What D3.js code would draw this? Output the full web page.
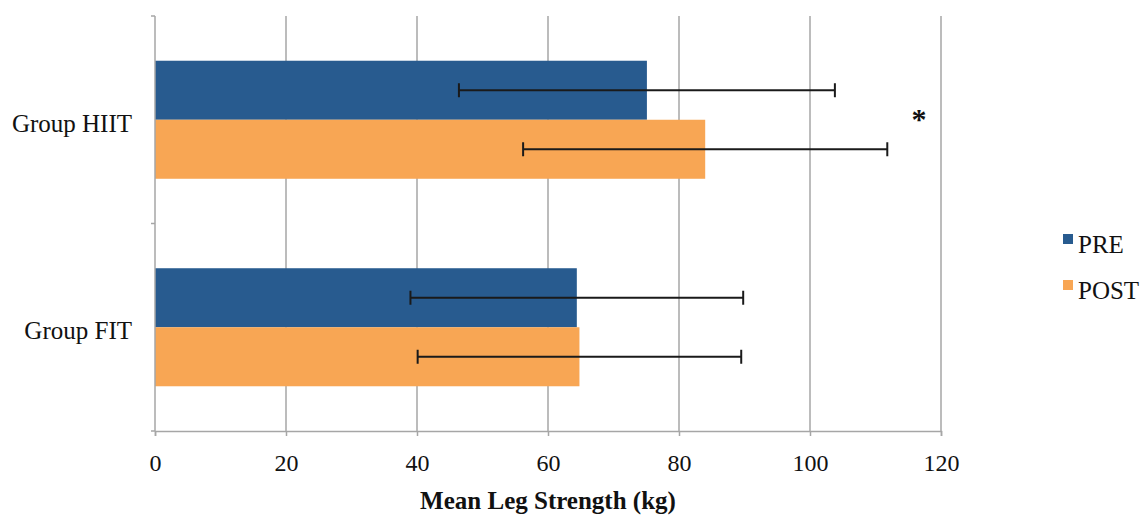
<!DOCTYPE html>
<html>
<head>
<meta charset="utf-8">
<script src="https://cdn.jsdelivr.net/npm/d3@7"></script>
<style>
  body { margin: 0; background: #fff; }
  svg { display: block; font-family: "Liberation Serif", "Times New Roman", serif; }
</style>
</head>
<body>
<svg class="chart"></svg>
<script>
// data
let groups = ["Group HIIT", "Group FIT"];
let series = ["PRE", "POST"];
let preMeans = [75.1, 64.4];
let postMeans = [84.0, 64.8];
let preErrors = [28.7, 25.4];
let postErrors = [27.8, 24.7];
let xTicks = [0, 20, 40, 60, 80, 100, 120];

let svgWidth = 1145, svgHeight = 515;
let colors = { PRE: "#285b8f", POST: "#f8a654" };

let rows = [];
groups.forEach(function (g, i) {
    rows.push({ group: g, s: "PRE", value: preMeans[i], err: preErrors[i] });
    rows.push({ group: g, s: "POST", value: postMeans[i], err: postErrors[i] });
});

let svg = d3.select('.chart')
    .attr("width", svgWidth)
    .attr("height", svgHeight);

let x = d3.scaleLinear().domain([0, 120]).range([155, 941]);
let y = d3.scaleBand().domain(groups).range([16, 431]);
let ySub = d3.scaleBand().domain(series).range([0, y.bandwidth()])
    .paddingInner(0).paddingOuter(0.758);

// gridlines
svg.append("g")
    .selectAll("line")
    .data(xTicks.slice(1))
    .enter()
    .append("line")
    .attr("x1", d => x(d)).attr("x2", d => x(d))
    .attr("y1", 16).attr("y2", 431)
    .attr("stroke", "#a6a6a6")
    .attr("stroke-width", 1.5);

// bars
svg.append("g")
    .selectAll("rect")
    .data(rows)
    .enter()
    .append("rect")
    .attr("x", x(0))
    .attr("y", d => y(d.group) + ySub(d.s))
    .attr("width", d => x(d.value) - x(0))
    .attr("height", ySub.bandwidth())
    .attr("fill", d => colors[d.s]);

// x axis
let xAxis = svg.append("g")
    .attr("transform", "translate(0,431)")
    .call(d3.axisBottom(x).tickValues(xTicks).tickSize(5));
xAxis.select(".domain").attr("stroke", "#a6a6a6").attr("stroke-width", 1.5);
xAxis.selectAll(".tick line").attr("stroke", "#a6a6a6").attr("stroke-width", 1.5);
xAxis.selectAll(".tick text")
    .attr("y", 40)
    .attr("dy", 0)
    .attr("font-family", "Liberation Serif, serif")
    .attr("font-size", 24)
    .attr("fill", "#111");

// y axis: ticks sit at category boundaries
let yAxis = svg.append("g")
    .attr("transform", "translate(" + x(0) + ",0)");
yAxis.append("line")
    .attr("x1", 0).attr("x2", 0).attr("y1", 16).attr("y2", 431)
    .attr("stroke", "#a6a6a6").attr("stroke-width", 1.5);
yAxis.selectAll(".ytick")
    .data([16, 16 + y.bandwidth(), 431])
    .enter()
    .append("line")
    .attr("x1", -4).attr("x2", 0)
    .attr("y1", d => d).attr("y2", d => d)
    .attr("stroke", "#a6a6a6").attr("stroke-width", 1.5);
yAxis.selectAll(".ylabel")
    .data(groups)
    .enter()
    .append("text")
    .attr("x", -23)
    .attr("y", d => y(d) + y.bandwidth() / 2 + 12)
    .attr("text-anchor", "end")
    .attr("font-size", 25)
    .attr("fill", "#111")
    .text(d => d);

// error bars
let eb = svg.append("g").attr("stroke", "#1a1a1a").attr("stroke-width", 2);
rows.forEach(function (d) {
    let cy = y(d.group) + ySub(d.s) + ySub.bandwidth() / 2;
    eb.append("line")
        .attr("x1", x(d.value - d.err)).attr("x2", x(d.value + d.err))
        .attr("y1", cy).attr("y2", cy);
    [d.value - d.err, d.value + d.err].forEach(function (v) {
        eb.append("line")
            .attr("x1", x(v)).attr("x2", x(v))
            .attr("y1", cy - 7).attr("y2", cy + 7);
    });
});

// significance mark
svg.append("text")
    .attr("x", 919)
    .attr("y", 129)
    .attr("text-anchor", "middle")
    .attr("font-size", 30)
    .attr("font-weight", "bold")
    .attr("fill", "#111")
    .text("*");

// axis title
svg.append("text")
    .attr("x", 548)
    .attr("y", 509)
    .attr("text-anchor", "middle")
    .attr("font-size", 25)
    .attr("font-weight", "bold")
    .attr("fill", "#111")
    .text("Mean Leg Strength (kg)");

// legend
let legend = svg.append("g")
    .selectAll("g")
    .data(series)
    .enter()
    .append("g")
    .attr("transform", (d, i) => "translate(1063," + (234 + i * 46) + ")");
legend.append("rect")
    .attr("width", 10).attr("height", 10)
    .attr("fill", d => colors[d]);
legend.append("text")
    .attr("x", 15)
    .attr("y", 19)
    .attr("font-size", 25)
    .attr("fill", "#111")
    .text(d => d);
</script>
</body>
</html>
